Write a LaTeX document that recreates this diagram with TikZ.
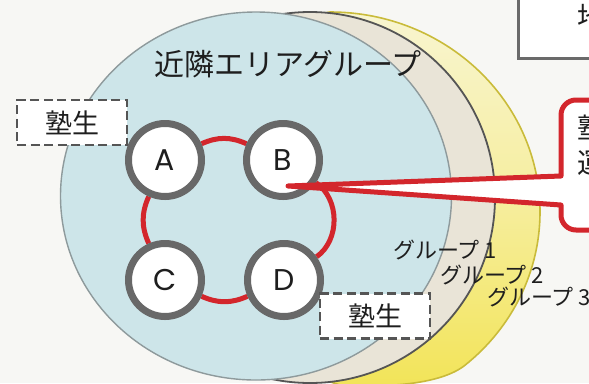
\documentclass[tikz,border=0pt]{standalone}
\usepackage{fontspec}
\newfontfamily\jp{Noto Sans CJK JP}
\newfontfamily\lat{Poppins}
\definecolor{bgc}{HTML}{F7F7F4}
\definecolor{bluef}{HTML}{CDE5E9}
\definecolor{bluee}{HTML}{8E9A9C}
\definecolor{beigef}{HTML}{E9E4D7}
\definecolor{beigee}{HTML}{555555}
\definecolor{yeltop}{HTML}{F8F5D0}
\definecolor{yelmid}{HTML}{F6EE9E}
\definecolor{yelbot}{HTML}{F2E458}
\definecolor{yele}{HTML}{C9BB3A}
\definecolor{redc}{HTML}{D3262C}
\definecolor{ringc}{HTML}{686868}
\definecolor{dashc}{HTML}{555555}
\definecolor{boxc}{HTML}{6A6A6A}
\definecolor{txt}{HTML}{1E1E1E}
\pgfdeclarelayer{back}
\pgfdeclarelayer{links}
\pgfsetlayers{back,links,main}
\begin{document}
\begin{tikzpicture}[x=1bp,y=-1bp,
  member/.style={circle, draw=ringc, line width=7bp, fill=white, minimum size=73bp, inner sep=0pt, text=txt, font=\lat\fontsize{30bp}{30bp}\selectfont},
  link/.style={draw=redc, line width=5bp},
  dashbox/.style={draw=dashc, line width=2.8bp, dash pattern=on 9bp off 4.5bp, fill=white, minimum height=45bp, inner sep=0pt, text=txt, font=\jp\fontsize{27bp}{27bp}\selectfont},
  grp/.style={anchor=west, inner sep=0pt, text=txt, font=\jp\fontsize{22bp}{22bp}\selectfont},
  jptext/.style={inner sep=0pt, text=txt, font=\jp\fontsize{#1}{#1}\selectfont},
]
\useasboundingbox (0,0) rectangle (589,383);
\clip (0,0) rectangle (589,383);
\begin{pgfonlayer}{back}
  \fill[bgc] (0,0) rectangle (589,383);
  \draw[yele, line width=1.6bp, top color=yeltop, bottom color=yelbot, middle color=yelmid, line join=round]
    (330,12) arc[start angle=-90, end angle=50, x radius=210, y radius=200]
    .. controls (441.6,383.8) and (390,388) .. (340,385)
    -- (200,340) -- (150,200) -- (230,30) -- cycle;
  \draw[beigee, line width=1.8bp, fill=beigef] (310,197.5) ellipse [x radius=185, y radius=185.5];
  \draw[bluee, line width=1.4bp, fill=bluef] (256,196) ellipse [x radius=195.5, y radius=184];
\end{pgfonlayer}

\node[jptext=30bp] (title) at (288,64) {近隣エリアグループ};

\node[member] (A) at (165,160) {A};
\node[member] (B) at (283,160) {B};
\node[member] (C) at (165,280) {C};
\node[member] (D) at (284,280) {D};

\begin{pgfonlayer}{links}
  \draw[link] (A) to[bend left=24] (B);
  \draw[link] (B) to[bend left=55] (D);
  \draw[link] (D) to[bend left=24] (C);
  \draw[link] (C) to[bend left=24] (A);
\end{pgfonlayer}

\node[dashbox, minimum width=110bp] (juku1) at (72,122.5) {塾生};
\node[dashbox, minimum width=110bp] (juku2) at (375,316) {塾生};

\node[grp] (g1) at (393,250) {グループ 1};
\node[grp] (g2) at (440,275) {グループ 2};
\node[grp] (g3) at (487,297) {グループ 3};

% top-right box
\node[draw=boxc, line width=2.6bp, fill=white, anchor=north west, minimum width=120bp, minimum height=67bp, inner sep=0pt] (tbox) at (517,-10) {};
\node[jptext=28bp, anchor=west] (tboxtext) at (577,17) {地};

% callout from B
\coordinate (tip) at (288,186);
\draw[link, fill=white, line join=round] (tip) -- (561,176) -- (561,115)
   arc[start angle=180, end angle=270, radius=15] -- (640,100) -- (640,230) -- (576,230)
   arc[start angle=90, end angle=180, radius=15] -- (561,205) -- cycle;
\node[jptext=28bp, anchor=west, align=left, font=\jp\fontsize{28bp}{35bp}\selectfont] (ctext) at (577,145) {塾\\運};
\end{tikzpicture}
\end{document}
